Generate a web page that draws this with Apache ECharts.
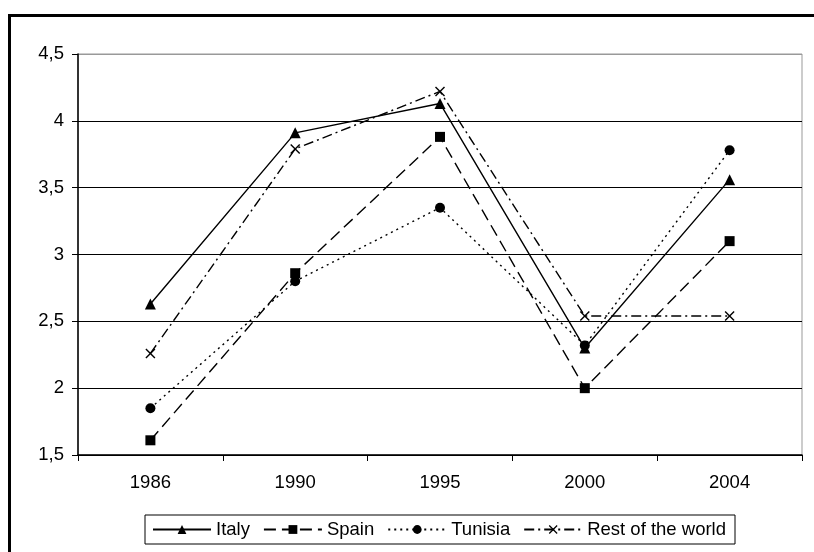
<!DOCTYPE html>
<html>
<head>
<meta charset="utf-8">
<script src="https://cdn.jsdelivr.net/npm/echarts@6/dist/echarts.min.js"></script>
<style>html,body{margin:0;padding:0;background:#fff;}#c{width:814px;height:552px;}</style>
</head>
<body>
<div id="c"></div>
<script>
const categories = ['1986', '1990', '1995', '2000', '2004'];
const italy = [2.63, 3.91, 4.13, 2.30, 3.56];
const spain = [1.61, 2.86, 3.88, 2.00, 3.10];
const tunisia = [1.85, 2.80, 3.35, 2.32, 3.78];
const restOfWorld = [2.26, 3.79, 4.22, 2.54, 2.54];
const yTicks = {min: 1.5, max: 4.5, interval: 0.5};

const crossPath = 'path://M0,1 L1,0 L5,4 L9,0 L10,1 L6,5 L10,9 L9,10 L5,6 L1,10 L0,9 L4,5 Z';
const font = 'Liberation Sans, Arial, sans-serif';
const fs = 18.5;

function mk(name, data, symbol, size, dash) {
  return {
    name: name, type: 'line', data: data,
    symbol: symbol, symbolSize: size,
    itemStyle: {color: '#000'},
    lineStyle: {color: '#000', width: 1.4, type: dash},
    emphasis: {disabled: true},
    animation: false
  };
}

const chart = echarts.init(document.getElementById('c'), null, {renderer: 'canvas'});
chart.setOption({
  backgroundColor: '#fff',
  animation: false,
  graphic: [{
    type: 'rect', shape: {x: 9.5, y: 15.5, width: 830, height: 560},
    style: {fill: 'none', stroke: '#000', lineWidth: 3}, z: -1
  }],
  grid: {left: 78, right: 12, top: 54, bottom: 97, show: true, borderColor: '#999', borderWidth: 1, backgroundColor: 'transparent'},
  legend: {
    top: 515, left: 145,
    data: ['Italy', 'Spain', 'Tunisia', 'Rest of the world'],
    itemWidth: 58, itemHeight: 11, itemGap: 13,
    borderColor: '#000', borderWidth: 1, padding: [5, 9, 5, 7],
    textStyle: {fontFamily: font, fontSize: fs, color: '#000'},
    selectedMode: false
  },
  xAxis: {
    type: 'category', data: categories, boundaryGap: true,
    axisLine: {lineStyle: {color: '#000', width: 1.5}},
    axisTick: {show: true, interval: 0, length: 6, lineStyle: {color: '#000'}},
    axisLabel: {fontFamily: font, fontSize: fs, color: '#000', margin: 18}
  },
  yAxis: {
    type: 'value', min: yTicks.min, max: yTicks.max, interval: yTicks.interval,
    axisLine: {show: true, lineStyle: {color: '#000', width: 1.5}},
    axisTick: {show: true, length: 6, lineStyle: {color: '#000'}},
    axisLabel: {fontFamily: font, fontSize: fs, color: '#000', margin: 14,
      formatter: v => String(v).replace('.', ',')},
    splitLine: {show: true, lineStyle: {color: ['#000', '#000', '#000', '#000', '#000', '#000', '#999'], width: 1}}
  },
  series: [
    mk('Italy', italy, 'triangle', 11, 'solid'),
    mk('Spain', spain, 'rect', 10, [12, 6]),
    mk('Tunisia', tunisia, 'circle', 10, [2, 4]),
    mk('Rest of the world', restOfWorld, crossPath, 10, [10, 4, 2, 4])
  ]
});
</script>
</body>
</html>
